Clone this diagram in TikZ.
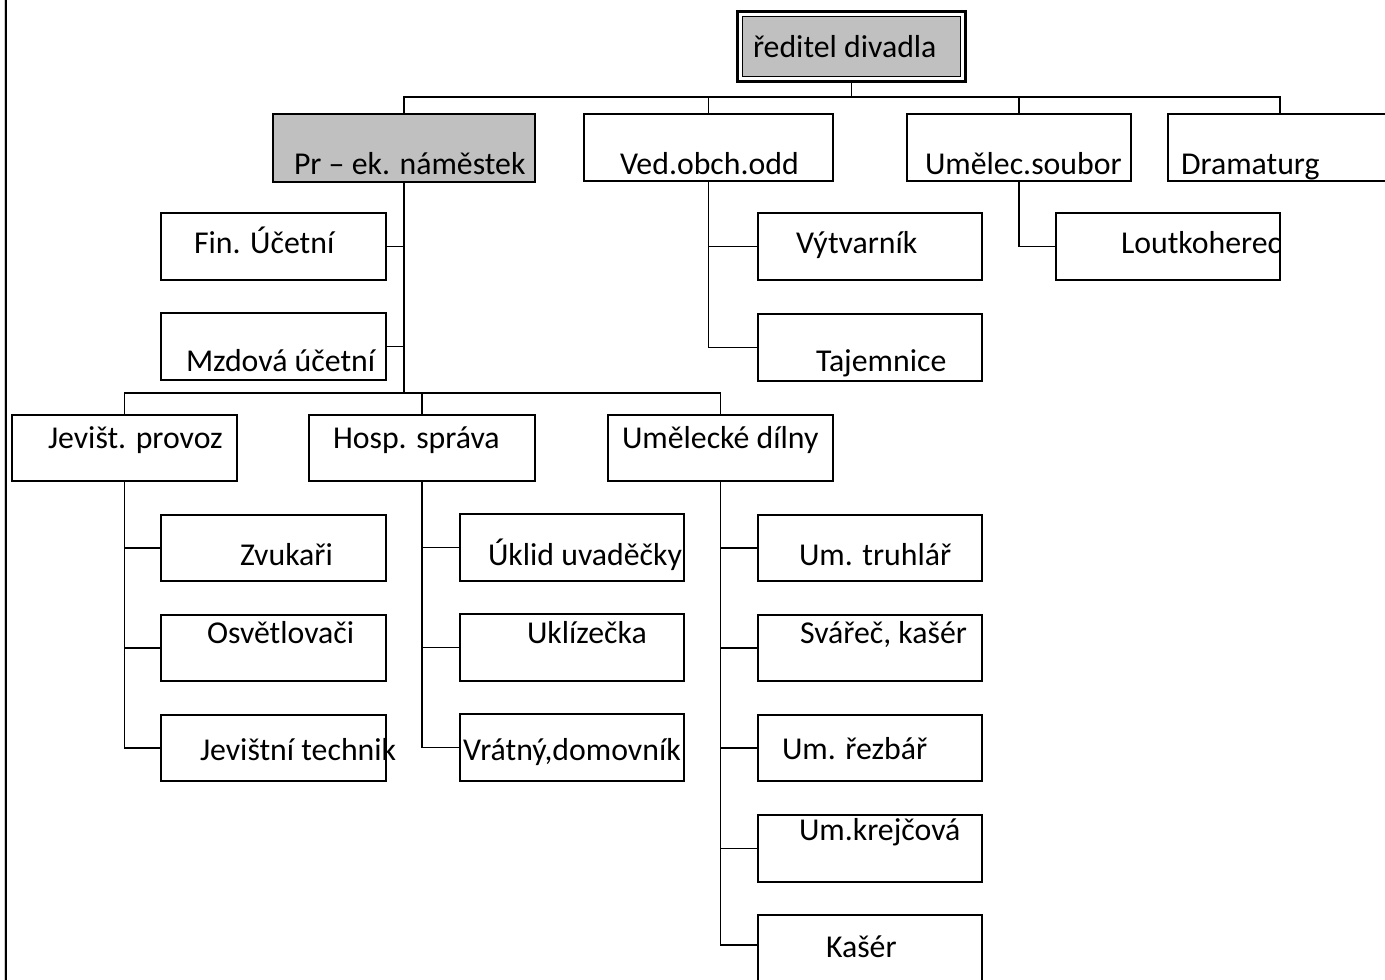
\documentclass[tikz,border=0pt]{standalone}
\usepackage{fontspec}
\setmainfont{Carlito}
\definecolor{silverbox}{HTML}{C0C0C0}
\newcommand{\obox}[6][]{\node[box,#1,minimum width={(#5-#3)*1pt},minimum height={(#6-#4)*1pt}] (#2) at ({(#3+#5)/2},{(#4+#6)/2}) {};}
\begin{document}
\begin{tikzpicture}[x=1pt,y=-1pt,
  box/.style={draw, line width=1.7pt, inner sep=0pt, outer sep=0pt},
  greybox/.style={fill=silverbox},
  conn/.style={line width=1.2pt},
  lbl/.style={anchor=base west, inner sep=0pt, outer sep=0pt, font=\fontsize{31.8}{36}\selectfont}]
\useasboundingbox (0,0) rectangle (1385,980);
\clip (0,0) rectangle (1385,980);
% page edge
\draw[line width=1pt, black!20] (4.2,0) -- (4.2,980);
\draw[line width=2.2pt] (6,0) -- (6,980);
% director
\obox[line width=3pt]{dirframe}{737.5}{11.5}{965.5}{81.5}
\obox[greybox,line width=1.8pt]{dir}{742.5}{16.5}{960.5}{76.5}
% first row
\obox[greybox]{pr}{273}{114}{535}{182}
\obox{ved}{584}{114}{833}{181}
\obox{um}{907}{114}{1131}{181}
\obox{dr}{1168}{114}{1392}{181}
% under pr
\obox{fin}{161}{213}{386}{280}
\obox{mz}{161}{313}{386}{380}
% under ved
\obox{vyt}{758}{213}{982}{280}
\obox{taj}{758}{314}{982}{381}
% under um
\obox{lout}{1056}{213}{1280}{280}
% second row
\obox{jev}{12}{415}{237}{481}
\obox{hosp}{309}{415}{535}{481}
\obox{dil}{608}{415}{833}{481}
% under jev
\obox{zv}{161}{515}{386}{581}
\obox{osv}{161}{615}{386}{681}
\obox{jt}{161}{715}{386}{781}
% under hosp
\obox{ukl}{460}{514}{684}{581}
\obox{uk}{460}{614}{684}{681}
\obox{vr}{460}{714}{684}{781}
% under dil
\obox{tr}{758}{515}{982}{581}
\obox{sv}{758}{615}{982}{681}
\obox{rez}{758}{715}{982}{781}
\obox{kr}{758}{815}{982}{882}
\obox{ka}{758}{915}{982}{982}
% connectors
\draw[conn] (dirframe.south) -- ++(0,15.5) -| (pr.north);
\draw[conn] (dirframe.south) ++(0,15.5) -| (ved.north);
\draw[conn] (dirframe.south) ++(0,15.5) -| (um.north);
\draw[conn] (dirframe.south) ++(0,15.5) -| (dr.north);
\draw[conn] (pr.south) |- (fin.east);
\draw[conn] (pr.south) |- (mz.east);
\draw[conn] (pr.south) -- ++(0,211) -| (jev.north);
\draw[conn] (pr.south) ++(0,211) -| (hosp.north);
\draw[conn] (pr.south) ++(0,211) -| (dil.north);
\draw[conn] (ved.south) |- (vyt.west);
\draw[conn] (ved.south) |- (taj.west);
\draw[conn] (um.south) |- (lout.west);
\draw[conn] (jev.south) |- (zv.west);
\draw[conn] (jev.south) |- (osv.west);
\draw[conn] (jev.south) |- (jt.west);
\draw[conn] (hosp.south) |- (ukl.west);
\draw[conn] (hosp.south) |- (uk.west);
\draw[conn] (hosp.south) |- (vr.west);
\draw[conn] (dil.south) |- (tr.west);
\draw[conn] (dil.south) |- (sv.west);
\draw[conn] (dil.south) |- (rez.west);
\draw[conn] (dil.south) |- (kr.west);
\draw[conn] (dil.south) |- ([yshift=3.5pt]ka.west);
% labels
\node[lbl] (dirt) at (753,57) {ředitel divadla};
\node[lbl] (prt) at (294,174) {Pr – ek. náměstek};
\node[lbl] (vedt) at (620,174) {Ved.obch.odd};
\node[lbl] (umt) at (925,174) {Umělec.soubor};
\node[lbl] (drt) at (1181,174) {Dramaturg};
\node[lbl] (fint) at (194,253) {Fin. Účetní};
\node[lbl] (mzt) at (186,371) {Mzdová účetní};
\node[lbl] (vytt) at (796,253) {Výtvarník};
\node[lbl] (tajt) at (816,371) {Tajemnice};
\node[lbl] (loutt) at (1121,253) {Loutkoherec};
\node[lbl] (jevt) at (48,448) {Jevišt. provoz};
\node[lbl] (hospt) at (333,448) {Hosp. správa};
\node[lbl] (dilt) at (622,448) {Umělecké dílny};
\node[lbl] (zvt) at (240,565) {Zvukaři};
\node[lbl] (osvt) at (207,643) {Osvětlovači};
\node[lbl] (jtt) at (200,760) {Jevištní technik};
\node[lbl] (uklt) at (488,565) {Úklid uvaděčky};
\node[lbl] (ukt) at (527,643) {Uklízečka};
\node[lbl] (vrt) at (463,760) {Vrátný,domovník};
\node[lbl] (trt) at (799,565) {Um. truhlář};
\node[lbl] (svt) at (800,643) {Svářeč, kašér};
\node[lbl] (rezt) at (782,759) {Um. řezbář};
\node[lbl] (krt) at (799,840) {Um.krejčová};
\node[lbl] (kat) at (826,957) {Kašér};
\end{tikzpicture}
\end{document}
